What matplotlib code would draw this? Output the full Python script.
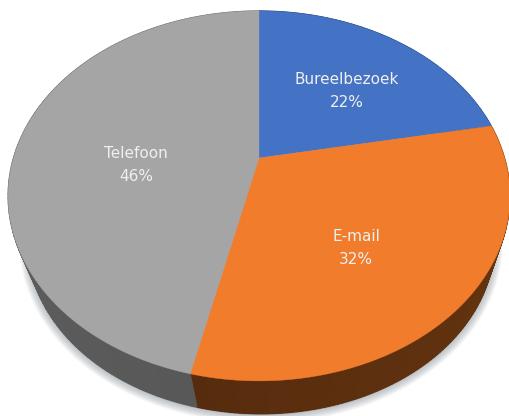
import matplotlib
matplotlib.use("Agg")
import matplotlib.pyplot as plt
import numpy as np

labels = ["Bureelbezoek", "E-mail", "Telefoon"]
values = [22, 31.6, 46.4]
top_colors = ["#4472c4", "#f07c2c", "#a5a5a5"]
side_start = ["#2a4478", "#6a3810", "#585858"]
side_end = ["#2a4478", "#572c0e", "#666666"]
label_pos = [(347, 79), (356, 236), (136, 153)]

# pie centre and perspective of the tilted disc, in pixels
cx, cy = 259, 158
a = 245.6
b = 177.2
k = 0.205
# lower rim of the disc
cy2 = 241
rx2, ry2 = 233.4, 172


def top_rim(t):
    u = np.sin(t)
    v = np.cos(t)
    d = 1 + k * v
    return cx + a * u / d, cy - b * v / d


def low_rim(t):
    # same point of the top ellipse, pushed onto the lower one
    x, y = top_rim(t)
    ex = (x - 259) / 251
    ey = (y - 195) / 185
    return 261 + rx2 * ex, cy2 + ry2 * ey


fig = plt.figure(figsize=(5.09, 4.16), dpi=100)
ax = fig.add_axes([0, 0, 1, 1])
ax.set_xlim(0, 509)
ax.set_ylim(416, 0)
ax.axis("off")

t_all = np.linspace(0, 2 * np.pi, 400)

# soft shadow under the disc
xs, ys = low_rim(t_all)
for i in range(10):
    ax.fill(xs, ys + 1, color="#8f979e", alpha=0.07, lw=12 - i * 1.2, zorder=1)

edges = np.cumsum([0] + values) / sum(values) * 2 * np.pi

# side wall: one solid piece, then small pieces for the shading
for i in range(len(values)):
    t = np.linspace(edges[i], edges[i + 1], 120)
    x1, y1 = top_rim(t)
    x2, y2 = low_rim(t)
    ax.fill(np.r_[x1, x2[::-1]], np.r_[y1, y2[::-1]], color=side_end[i], lw=0, zorder=2)
    c1 = np.array(matplotlib.colors.to_rgb(side_start[i]))
    c2 = np.array(matplotlib.colors.to_rgb(side_end[i]))
    n = len(t) - 1
    for j in range(n):
        f = j / n
        col = c1 * (1 - f) + c2 * f
        ax.fill([x1[j], x1[j + 1], x2[j + 1], x2[j]], [y1[j], y1[j + 1], y2[j + 1], y2[j]],
                color=col, lw=0.8, zorder=2)

# top face
for i in range(len(values)):
    t = np.linspace(edges[i], edges[i + 1], 200)
    x, y = top_rim(t)
    ax.fill(np.r_[cx, x], np.r_[cy, y], color=top_colors[i], lw=0.3, zorder=3)

for i in range(len(values)):
    s = labels[i] + "\n" + str(int(round(values[i]))) + "%"
    ax.text(label_pos[i][0], label_pos[i][1] + 12, s, color="#f0f0f0", ha="center", va="center",
            fontsize=11, family="DejaVu Sans", linespacing=1.72, zorder=4)

fig.savefig("out.png", dpi=100)
